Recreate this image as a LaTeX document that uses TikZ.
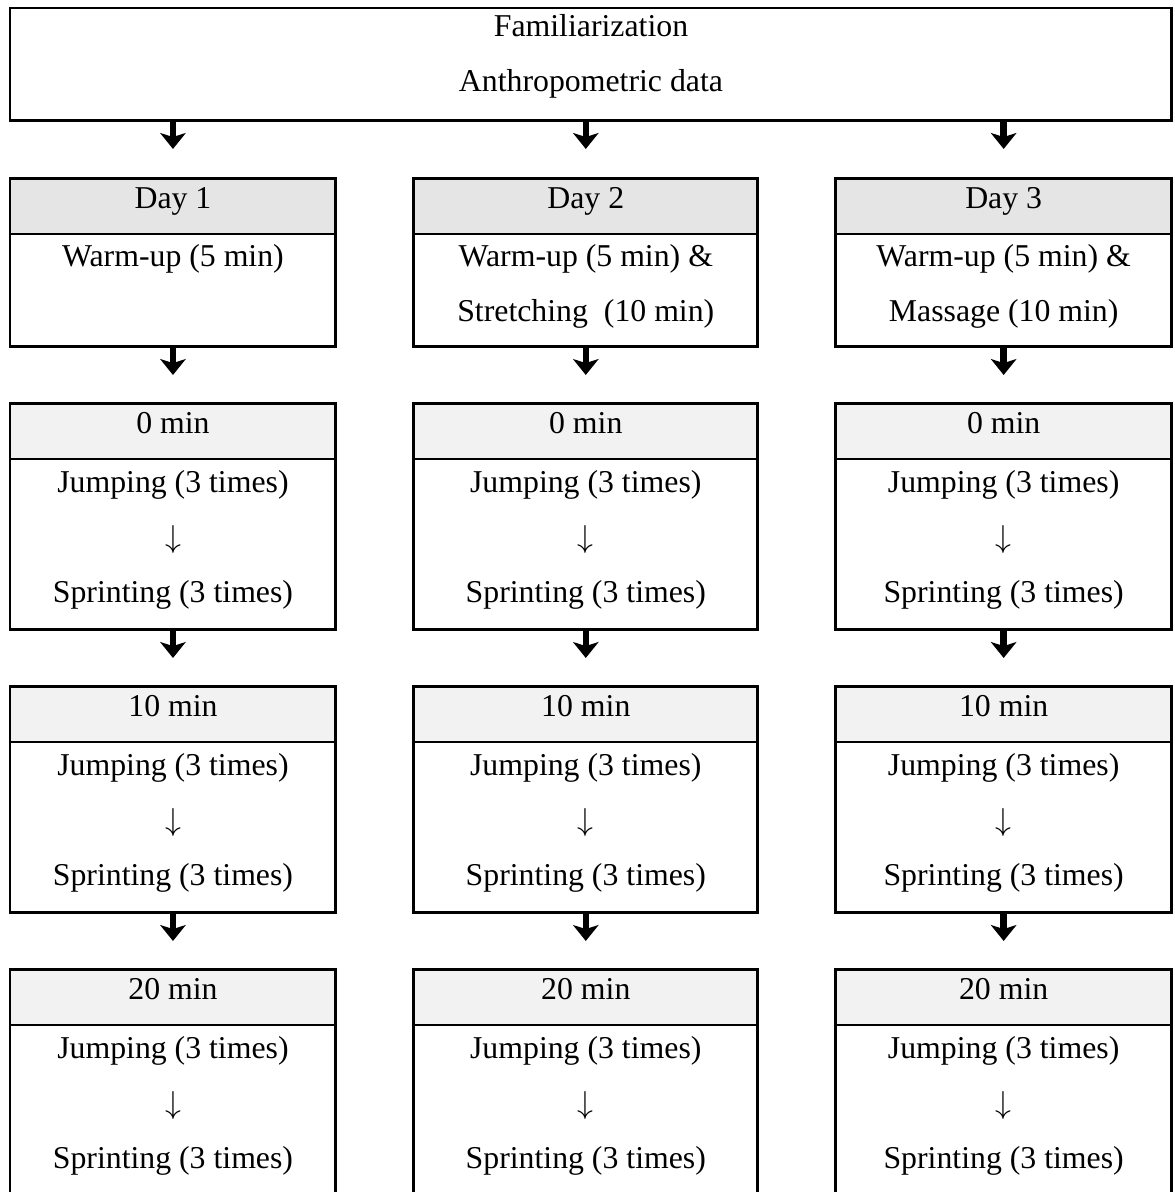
\documentclass[tikz,border=0pt]{standalone}
\usepackage{fontspec}
\setmainfont{Liberation Serif}
\usetikzlibrary{positioning,arrows.meta}

\tikzset{
  box/.style={draw, line width=1.1pt, inner sep=0pt, outer sep=0pt},
  colA/.style={minimum width=123pt},
  colB/.style={minimum width=129.8pt},
  colC/.style={minimum width=126.8pt},
  dayhead/.style={box, fill=gray!20, minimum height=21.1pt, text height=7pt, text depth=5pt},
  minhead/.style={dayhead, fill=gray!10},
  daybody/.style={box, minimum height=42.3pt},
  minbody/.style={box, minimum height=64.2pt},
  txt/.style={align=center, inner sep=0pt},
  bigarrow/.style={line width=2.4pt, -{Stealth[length=6pt, width=9.6pt, inset=1.5pt]}},
}

\begin{document}
\begin{tikzpicture}[x=0.3774pt, y=-0.3774pt, font=\fontsize{12pt}{20.75pt}\selectfont]
  \useasboundingbox (0,0) rectangle (1174,1192);

  % Define nodes
  \node[box, anchor=north west, minimum width=438.5pt, minimum height=42.3pt] (top) at (10,8) {};
  \node[txt, below=2.2pt of top.north] (topText) {Familiarization\\Anthropometric data};

  \node[dayhead, colA, below right=21.9pt and 0pt of top.south west] (day1) {Day 1};
  \node[dayhead, colB, right=29.4pt of day1] (day2) {Day 2};
  \node[dayhead, colC, right=29.4pt of day2] (day3) {Day 3};
  \node[daybody, colA, below=0pt of day1] (day1b) {};
  \node[daybody, colB, below=0pt of day2] (day2b) {};
  \node[daybody, colC, below=0pt of day3] (day3b) {};
  \node[txt, below=3.6pt of day1b.north] (day1t) {Warm-up (5 min)};
  \node[txt, below=3.6pt of day2b.north] (day2t) {Warm-up (5 min) \&\\Stretching~ (10 min)};
  \node[txt, below=3.6pt of day3b.north] (day3t) {Warm-up (5 min) \&\\Massage (10 min)};

  \node[minhead, colA, below=21.5pt of day1b] (zero1) {0 min};
  \node[minhead, colB, below=21.5pt of day2b] (zero2) {0 min};
  \node[minhead, colC, below=21.5pt of day3b] (zero3) {0 min};
  \node[minbody, colA, below=0pt of zero1] (zero1b) {};
  \node[minbody, colB, below=0pt of zero2] (zero2b) {};
  \node[minbody, colC, below=0pt of zero3] (zero3b) {};
  \node[txt, below=4pt of zero1b.north] (zero1t) {Jumping (3 times)\\$\downarrow$\\Sprinting (3 times)};
  \node[txt, below=4pt of zero2b.north] (zero2t) {Jumping (3 times)\\$\downarrow$\\Sprinting (3 times)};
  \node[txt, below=4pt of zero3b.north] (zero3t) {Jumping (3 times)\\$\downarrow$\\Sprinting (3 times)};

  \node[minhead, colA, below=21.5pt of zero1b] (ten1) {10 min};
  \node[minhead, colB, below=21.5pt of zero2b] (ten2) {10 min};
  \node[minhead, colC, below=21.5pt of zero3b] (ten3) {10 min};
  \node[minbody, colA, below=0pt of ten1] (ten1b) {};
  \node[minbody, colB, below=0pt of ten2] (ten2b) {};
  \node[minbody, colC, below=0pt of ten3] (ten3b) {};
  \node[txt, below=4pt of ten1b.north] (ten1t) {Jumping (3 times)\\$\downarrow$\\Sprinting (3 times)};
  \node[txt, below=4pt of ten2b.north] (ten2t) {Jumping (3 times)\\$\downarrow$\\Sprinting (3 times)};
  \node[txt, below=4pt of ten3b.north] (ten3t) {Jumping (3 times)\\$\downarrow$\\Sprinting (3 times)};

  \node[minhead, colA, below=21.5pt of ten1b] (twenty1) {20 min};
  \node[minhead, colB, below=21.5pt of ten2b] (twenty2) {20 min};
  \node[minhead, colC, below=21.5pt of ten3b] (twenty3) {20 min};
  \node[minbody, colA, minimum height=66pt, below=0pt of twenty1] (twenty1b) {};
  \node[minbody, colB, minimum height=66pt, below=0pt of twenty2] (twenty2b) {};
  \node[minbody, colC, minimum height=66pt, below=0pt of twenty3] (twenty3b) {};
  \node[txt, below=4pt of twenty1b.north] (twenty1t) {Jumping (3 times)\\$\downarrow$\\Sprinting (3 times)};
  \node[txt, below=4pt of twenty2b.north] (twenty2t) {Jumping (3 times)\\$\downarrow$\\Sprinting (3 times)};
  \node[txt, below=4pt of twenty3b.north] (twenty3t) {Jumping (3 times)\\$\downarrow$\\Sprinting (3 times)};

  % Connect the nodes
  \draw[bigarrow] (top.south -| day1.north) ++(0,-0.8pt) -- ++(0,-10.1pt);
  \draw[bigarrow] (top.south -| day2.north) ++(0,-0.8pt) -- ++(0,-10.1pt);
  \draw[bigarrow] (top.south -| day3.north) ++(0,-0.8pt) -- ++(0,-10.1pt);
  \draw[bigarrow] (day1b.south) ++(0,-0.8pt) -- ++(0,-10.1pt);
  \draw[bigarrow] (day2b.south) ++(0,-0.8pt) -- ++(0,-10.1pt);
  \draw[bigarrow] (day3b.south) ++(0,-0.8pt) -- ++(0,-10.1pt);
  \draw[bigarrow] (zero1b.south) ++(0,-0.8pt) -- ++(0,-10.1pt);
  \draw[bigarrow] (zero2b.south) ++(0,-0.8pt) -- ++(0,-10.1pt);
  \draw[bigarrow] (zero3b.south) ++(0,-0.8pt) -- ++(0,-10.1pt);
  \draw[bigarrow] (ten1b.south) ++(0,-0.8pt) -- ++(0,-10.1pt);
  \draw[bigarrow] (ten2b.south) ++(0,-0.8pt) -- ++(0,-10.1pt);
  \draw[bigarrow] (ten3b.south) ++(0,-0.8pt) -- ++(0,-10.1pt);

\end{tikzpicture}
\end{document}
